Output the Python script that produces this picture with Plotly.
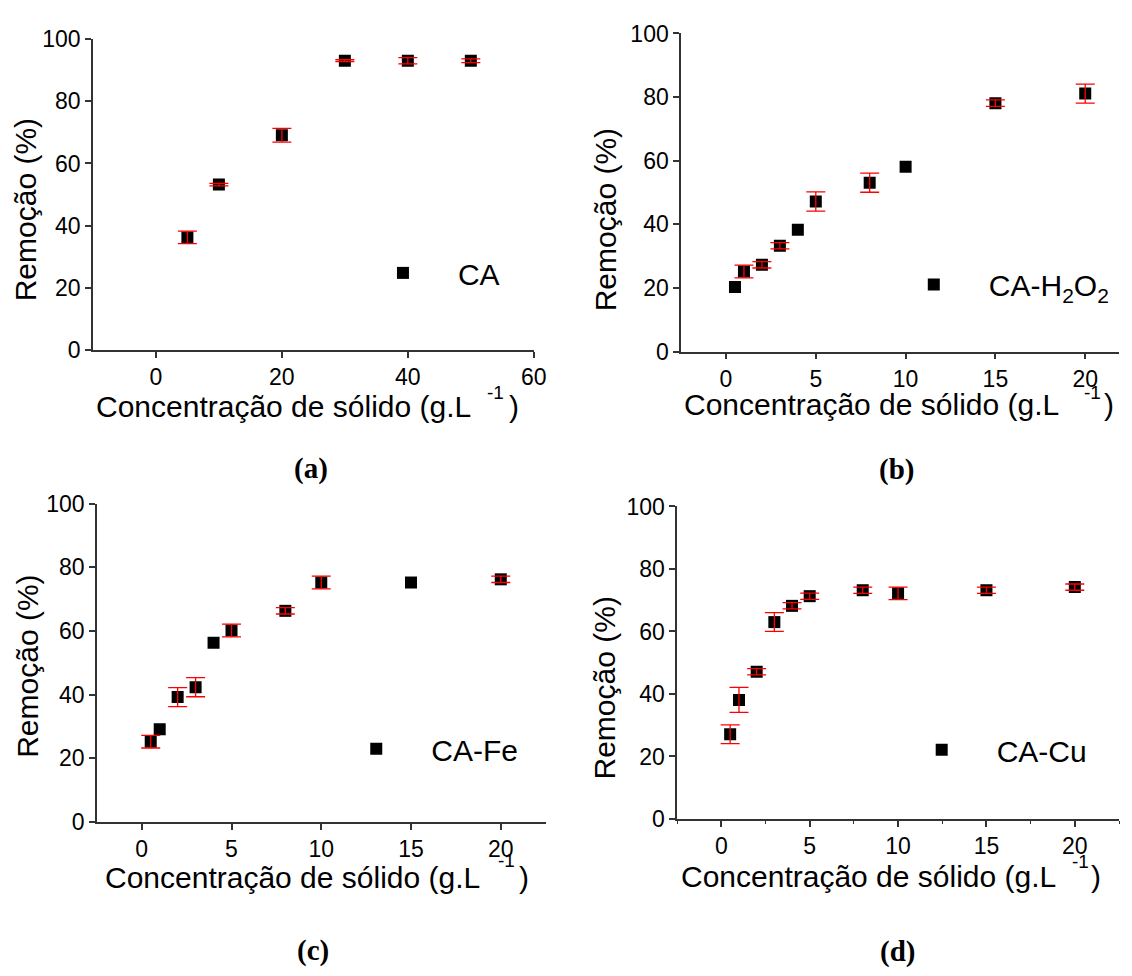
import plotly.graph_objects as go

W, H = 1132, 976

# ---------------- data ----------------
x_a = [5, 10, 20, 30, 40, 50]
y_a = [36.2, 53.2, 69.1, 93.1, 93.1, 93.1]
e_a = [2.0, 0.4, 2.2, 0.3, 1.0, 0.6]

x_b = [0.5, 1, 2, 3, 4, 5, 8, 10, 15, 20]
y_b = [20.3, 25.2, 27.3, 33.3, 38.3, 47.2, 53.1, 58.1, 78.1, 81.1]
e_b = [0, 2.0, 1.0, 1.0, 0, 3.0, 3.0, 0, 1.0, 3.0]

x_c = [0.5, 1, 2, 3, 4, 5, 8, 10, 15, 20]
y_c = [25.2, 29.1, 39.2, 42.3, 56.3, 60.1, 66.3, 75.2, 75.2, 76.2]
e_c = [2.0, 0, 3.0, 3.0, 0, 2.0, 1.0, 2.0, 0, 1.0]

x_d = [0.5, 1, 2, 3, 4, 5, 8, 10, 15, 20]
y_d = [27.1, 38.1, 47.1, 63.0, 68.2, 71.3, 73.2, 72.2, 73.2, 74.2]
e_d = [3.0, 4.0, 1.0, 3.0, 1.0, 1.0, 1.0, 2.0, 1.0, 1.0]

names = ["CA", "CA-H<sub>2</sub>O<sub>2</sub>", "CA-Fe", "CA-Cu"]
letters = ["(a)", "(b)", "(c)", "(d)"]
y_title = "Remoção (%)"
x_title = "Concentração de sólido (g.L"

SANS = "Liberation Sans, Arial, sans-serif"
SERIF = "Liberation Serif, Times New Roman, serif"

panels = [
    dict(x=x_a, y=y_a, e=e_a, xr=[-10, 60], dt=20, px=(94, 540), py=(27, 346), minor=False),
    dict(x=x_b, y=y_b, e=e_b, xr=[-2.5, 21.88], dt=5, px=(689, 1132), py=(21, 348), minor=False),
    dict(x=x_c, y=y_c, e=e_c, xr=[-2.5, 22.5], dt=5, px=(98, 552), py=(504, 831), minor=False),
    dict(x=x_d, y=y_d, e=e_d, xr=[-2.5, 22.5], dt=5, px=(685, 1132), py=(507, 828), minor=True),
]

# legend marker centres (px)
leg_pos = [(407, 267), (944, 279), (380, 756), (952, 757)]
# y-title centres (px)
yt_pos = [(26, 202), (612, 212), (27, 671), (612, 693)]
# x-title: main text left x, caps centre y, sup centre (x,y), ")" left x
xt_pos = [
    (95, 404, (501, 390), 513),
    (690, 402, (1105, 390), 1115),
    (104, 888, (512, 871), 523),
    (687, 887, (1093, 872), 1102),
]
letter_pos = [(315, 468), (907, 469), (317, 963), (908, 964)]

fig = go.Figure()
layout = dict(
    width=W, height=H, margin=dict(l=0, r=0, t=0, b=0),
    paper_bgcolor="white", plot_bgcolor="white", showlegend=True,
)
annotations = []

for i, p in enumerate(panels):
    k = "" if i == 0 else str(i + 1)
    xa, ya = "x" + k, "y" + k
    lg = "legend" + k
    fig.add_trace(go.Scatter(
        x=p["x"], y=p["y"], mode="markers", name=names[i],
        marker=dict(symbol="square", size=12, color="black"),
        xaxis=xa, yaxis=ya, legend=lg, showlegend=True,
    ))
    ex = [xv for xv, ev in zip(p["x"], p["e"]) if ev > 0]
    ey = [yv for yv, ev in zip(p["y"], p["e"]) if ev > 0]
    ee = [ev for ev in p["e"] if ev > 0]
    fig.add_trace(go.Scatter(
        x=ex, y=ey, mode="markers", showlegend=False,
        marker=dict(size=1, opacity=0, color="black"),
        error_y=dict(type="data", array=ee, color="#ff0000", thickness=1.3, width=9.5),
        xaxis=xa, yaxis=ya, hoverinfo="skip",
    ))
    x0, x1 = p["px"]
    y0, y1 = p["py"]
    axx = dict(
        domain=[x0 / W, x1 / W], range=p["xr"], anchor=ya,
        showline=True, linecolor="#333333", linewidth=1.5,
        ticks="outside", ticklen=6, tickwidth=1.5, tickcolor="#333333",
        tick0=0, dtick=p["dt"], showgrid=False, zeroline=False,
        tickfont=dict(family=SANS, size=23, color="black"),
    )
    if p["minor"]:
        axx["minor"] = dict(ticks="outside", ticklen=3, tickwidth=1.2,
                            tickcolor="#333333", dtick=2.5, tick0=0, showgrid=False)
    axy = dict(
        domain=[(H - y1) / H, (H - y0) / H], range=[0, 100], anchor=xa,
        showline=True, linecolor="#333333", linewidth=1.5,
        ticks="outside", ticklen=6, tickwidth=1.5, tickcolor="#333333",
        tick0=0, dtick=20, showgrid=False, zeroline=False,
        tickfont=dict(family=SANS, size=23, color="black"),
    )
    layout["xaxis" + k] = axx
    layout["yaxis" + k] = axy

    cx, cy = leg_pos[i]
    layout[lg] = dict(
        x=(cx - 55) / W, y=(H - cy) / H, xanchor="left", yanchor="middle",
        xref="paper", yref="paper", itemwidth=100,
        font=dict(family=SANS, size=30, color="black"),
        bgcolor="rgba(0,0,0,0)", borderwidth=0,
    )

    tx, ty = yt_pos[i]
    annotations.append(dict(
        text=y_title, x=tx / W, y=(H - ty) / H, xref="paper", yref="paper",
        xanchor="center", yanchor="middle", textangle=-90, showarrow=False,
        font=dict(family=SANS, size=30, color="black"),
    ))
    mx, my, (sx, sy), rx = xt_pos[i]
    annotations.append(dict(
        text=x_title, x=mx / W, y=(H - my) / H, xref="paper", yref="paper",
        xanchor="left", yanchor="middle", showarrow=False,
        font=dict(family=SANS, size=30, color="black"),
    ))
    annotations.append(dict(
        text="-1", x=sx / W, y=(H - sy) / H, xref="paper", yref="paper",
        xanchor="center", yanchor="middle", showarrow=False,
        font=dict(family=SANS, size=19, color="black"),
    ))
    annotations.append(dict(
        text=")", x=rx / W, y=(H - my) / H, xref="paper", yref="paper",
        xanchor="left", yanchor="middle", showarrow=False,
        font=dict(family=SANS, size=30, color="black"),
    ))
    lx, ly = letter_pos[i]
    annotations.append(dict(
        text="<b>" + letters[i] + "</b>", x=lx / W, y=(H - ly) / H,
        xref="paper", yref="paper", xanchor="center", yanchor="middle",
        showarrow=False, font=dict(family=SERIF, size=29, color="black"),
    ))

layout["annotations"] = annotations
fig.update_layout(**layout)
fig.write_html("out.html")
